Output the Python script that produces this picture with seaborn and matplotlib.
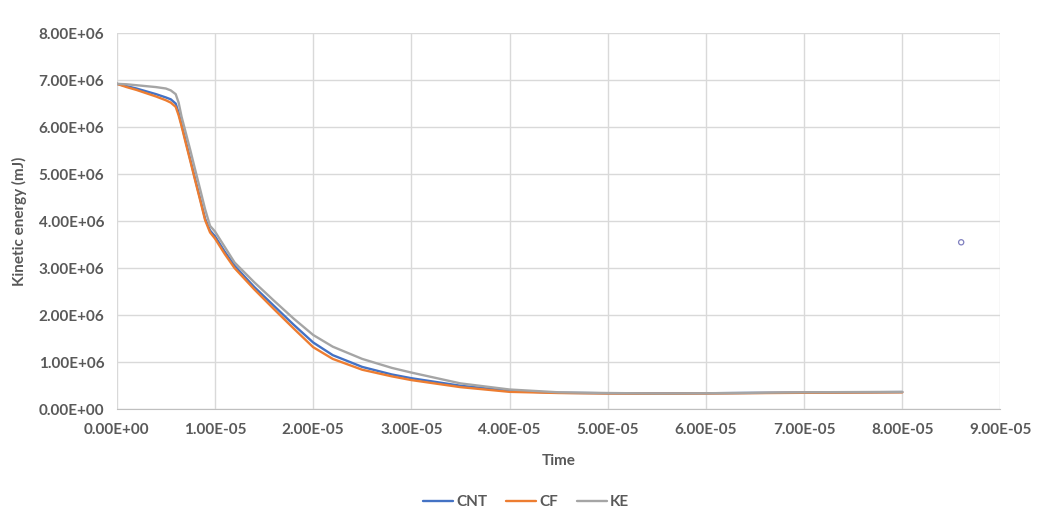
import matplotlib
matplotlib.use('Agg')
import matplotlib.pyplot as plt
import pandas as pd
import seaborn as sns
from matplotlib.ticker import FuncFormatter, MultipleLocator

# values (time in s, energy in 1e6 mJ)
time = [0, 1e-6, 2e-6, 3e-6, 4e-6, 5e-6, 5.5e-6, 6e-6, 6.3e-6, 6.6e-6, 7e-6, 7.5e-6,
        8e-6, 8.5e-6, 9e-6, 9.5e-6, 1e-5, 1.1e-5, 1.2e-5, 1.4e-5, 1.6e-5, 1.8e-5, 2e-5,
        2.2e-5, 2.5e-5, 2.8e-5, 3e-5, 3.5e-5, 4e-5, 4.5e-5, 5e-5, 5.5e-5, 6e-5, 7e-5, 8e-5]
cnt = [6.92, 6.87, 6.82, 6.76, 6.70, 6.63, 6.59, 6.50, 6.30, 6.05, 5.72, 5.30,
       4.88, 4.47, 4.05, 3.80, 3.68, 3.35, 3.05, 2.60, 2.20, 1.80, 1.42,
       1.15, 0.90, 0.74, 0.66, 0.50, 0.39, 0.35, 0.34, 0.335, 0.34, 0.355, 0.365]
cf = [6.92, 6.85, 6.79, 6.72, 6.65, 6.57, 6.52, 6.43, 6.25, 6.02, 5.68, 5.27,
      4.85, 4.44, 4.02, 3.76, 3.63, 3.30, 3.00, 2.55, 2.13, 1.72, 1.32,
      1.07, 0.84, 0.70, 0.62, 0.47, 0.37, 0.345, 0.335, 0.33, 0.335, 0.35, 0.36]
ke = [6.92, 6.91, 6.89, 6.87, 6.85, 6.82, 6.78, 6.70, 6.52, 6.22, 5.90, 5.50,
      5.08, 4.67, 4.25, 3.90, 3.78, 3.45, 3.12, 2.70, 2.31, 1.93, 1.58,
      1.33, 1.07, 0.88, 0.78, 0.55, 0.42, 0.36, 0.345, 0.335, 0.34, 0.36, 0.37]
series = ['CNT', 'CF', 'KE']
stray_t = [8.6e-5]
stray_e = [3.55]

colors = {'CNT': '#4472C4', 'CF': '#ED7D31', 'KE': '#A5A5A5'}
text_col = '#595959'

df = pd.DataFrame({
    'Time': time * 3,
    'Energy': [v * 1e6 for v in cnt + cf + ke],
    'Series': [s for s in series for _ in time],
})

sns.set_style('white')
plt.rcParams['font.family'] = ['Lato', 'DejaVu Sans']

fig, ax = plt.subplots(figsize=(10.52, 5.24), dpi=100)
fig.subplots_adjust(left=0.111, right=0.951, top=0.937, bottom=0.219)

sns.lineplot(data=df, x='Time', y='Energy', hue='Series', palette=colors,
             hue_order=series, linewidth=1.7, ax=ax, legend=False)
ax.scatter(stray_t, [v * 1e6 for v in stray_e], s=14, facecolors='none',
           edgecolors='#7f7fbf', linewidths=0.9, zorder=3)

ax.set_xlim(0, 9e-5)
ax.set_ylim(0, 8e6)
ax.xaxis.set_major_locator(MultipleLocator(1e-5))
ax.yaxis.set_major_locator(MultipleLocator(1e6))
fmt = FuncFormatter(lambda v, p: '{:.2E}'.format(v))
ax.xaxis.set_major_formatter(fmt)
ax.yaxis.set_major_formatter(fmt)

ax.grid(True, color='#d9d9d9', linewidth=1)
ax.set_axisbelow(True)
for side in ['top', 'right', 'left']:
    ax.spines[side].set_visible(False)
ax.spines['bottom'].set_color('#bfbfbf')
ax.tick_params(axis='both', length=0, labelsize=11, labelcolor=text_col)
ax.tick_params(axis='x', pad=10)
ax.tick_params(axis='y', pad=9)
for lab in ax.get_xticklabels() + ax.get_yticklabels():
    lab.set_fontweight('bold')

ax.set_xlabel('Time', fontsize=11, fontweight='bold', color=text_col, labelpad=12)
ax.set_ylabel('Kinetic energy (mJ)', fontsize=11, fontweight='bold', color=text_col, labelpad=8)

handles = [plt.Line2D([], [], color=colors[s], lw=1.7) for s in series]
leg = fig.legend(handles, series, loc='center', bbox_to_anchor=(0.5, 0.042), ncol=3,
                 frameon=False, handlelength=2.0, handletextpad=0.2, columnspacing=1.2,
                 prop={'weight': 'bold', 'size': 11})
for t in leg.get_texts():
    t.set_color(text_col)

fig.savefig('out.png', dpi=100)
